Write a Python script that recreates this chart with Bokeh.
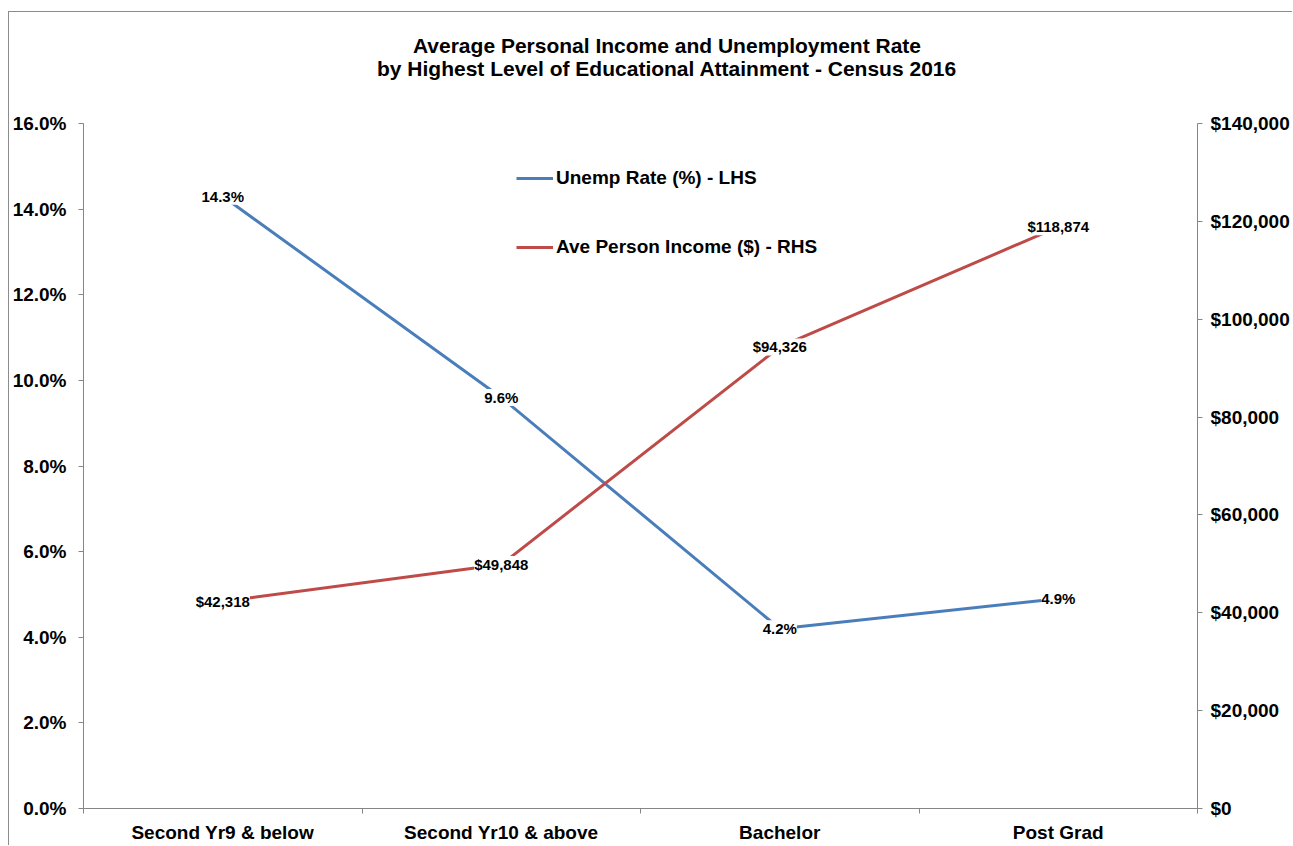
from bokeh.plotting import figure
from bokeh.models import (Range1d, LinearAxis, FixedTicker, PrintfTickFormatter,
                          NumeralTickFormatter, ColumnDataSource, LabelSet, Label,
                          Legend, LegendItem)
from bokeh.core.properties import value
from bokeh.embed import file_html
from bokeh.resources import INLINE

# ---------------- data ----------------
categories = ["Second Yr9 & below", "Second Yr10 & above", "Bachelor", "Post Grad"]
unemp_rate = [14.3, 9.6, 4.2, 4.9]
avg_income = [42318, 49848, 94326, 118874]
unemp_labels = ["14.3%", "9.6%", "4.2%", "4.9%"]
income_labels = ["$42,318", "$49,848", "$94,326", "$118,874"]
series_names = ["Unemp Rate (%) - LHS", "Ave Person Income ($) - RHS"]
title_lines = ["Average Personal Income and Unemployment Rate",
               "by Highest Level of Educational Attainment - Census 2016"]
pct_ticks = [0, 2, 4, 6, 8, 10, 12, 14, 16]
income_ticks = [0, 20000, 40000, 60000, 80000, 100000, 120000, 140000]

# ---------------- styling / layout ----------------
FONT = "Liberation Sans"
BLUE = "#4A7EBB"
RED = "#BE4B48"
AXIS_GRAY = "#868686"

W, H = 1284, 834          # figure size (placed at page x=9, y=12)
FRAME_H = 796             # frame spans the full height above the x axis
AXIS_H = 685              # pixel height of the 0..16% axis span

n = len(categories)
xs = [i + 0.5 for i in range(n)]
bounds = [float(i) for i in range(n + 1)]

pct_top = pct_ticks[-1] * FRAME_H / AXIS_H
inc_top = income_ticks[-1] * FRAME_H / AXIS_H

p = figure(width=W, height=H, output_backend="svg", toolbar_location=None,
           x_range=Range1d(0, n), y_range=Range1d(pct_ticks[0], pct_top),
           min_border_left=73, min_border_right=96, min_border_top=0,
           min_border_bottom=H - FRAME_H, background_fill_color="white",
           border_fill_color="white")
p.extra_y_ranges = {"income": Range1d(income_ticks[0], inc_top)}
p.styles = {"margin-left": "8px", "margin-top": "11px",
            "border-left": "1px solid #8c8c8c", "border-top": "1px solid #8c8c8c"}
p.outline_line_color = None
p.xgrid.visible = False
p.ygrid.visible = False


def style_axis(ax):
    ax.axis_line_color = AXIS_GRAY
    ax.axis_line_width = 1
    ax.major_tick_line_color = AXIS_GRAY
    ax.minor_tick_line_color = AXIS_GRAY
    ax.major_label_text_font = FONT
    ax.major_label_text_font_style = "bold"
    ax.major_label_text_font_size = "19px"
    ax.major_label_text_color = "#000000"


# left axis
yax = p.yaxis[0]
style_axis(yax)
yax.ticker = FixedTicker(ticks=pct_ticks)
yax.formatter = PrintfTickFormatter(format="%.1f%%")
yax.bounds = (pct_ticks[0], pct_ticks[-1])
yax.major_tick_out = 5
yax.major_tick_in = 0
yax.minor_tick_out = 0
yax.minor_tick_in = 0
yax.major_label_standoff = 12

# bottom axis
xax = p.xaxis[0]
style_axis(xax)
xax.ticker = FixedTicker(ticks=xs, minor_ticks=bounds)
xax.major_label_overrides = {x: c for x, c in zip(xs, categories)}
xax.major_tick_out = 0
xax.major_tick_in = 0
xax.minor_tick_out = 5
xax.minor_tick_in = 0
xax.major_label_standoff = 8

# right axis
rax = LinearAxis(y_range_name="income",
                 ticker=FixedTicker(ticks=income_ticks),
                 formatter=NumeralTickFormatter(format="$0,0"),
                 bounds=(income_ticks[0], income_ticks[-1]))
style_axis(rax)
rax.major_tick_out = 5
rax.major_tick_in = 0
rax.minor_tick_out = 0
rax.minor_tick_in = 0
rax.major_label_standoff = 8
p.add_layout(rax, "right")

# lines
src_u = ColumnDataSource(dict(x=xs, y=unemp_rate, t=unemp_labels))
src_i = ColumnDataSource(dict(x=xs, y=avg_income, t=income_labels))
r_u = p.line("x", "y", source=src_u, line_color=BLUE, line_width=3)
r_i = p.line("x", "y", source=src_i, line_color=RED, line_width=3,
             y_range_name="income")

# data labels
for src, yr in ((src_u, "default"), (src_i, "income")):
    ls = LabelSet(x="x", y="y", text="t", source=src, y_range_name=yr,
                  text_align="center", text_baseline="middle",
                  text_font=value(FONT), text_font_style="bold",
                  text_font_size="15px", text_color="#000000",
                  background_fill_color="white", background_fill_alpha=1.0)
    p.add_layout(ls)

# legend
legend = Legend(items=[LegendItem(label=series_names[0], renderers=[r_u]),
                       LegendItem(label=series_names[1], renderers=[r_i])],
                location=(433, 550), orientation="vertical",
                border_line_color=None, background_fill_alpha=0.0,
                padding=0, margin=0, spacing=47, label_height=22,
                glyph_height=22, glyph_width=37, label_standoff=3,
                label_text_font=FONT, label_text_font_style="bold",
                label_text_font_size="19px", label_text_color="#000000")
p.add_layout(legend)

# title: two centred lines in the space above the 16% level
px_per_unit = AXIS_H / pct_ticks[-1]
title_x = (666 - 82) / ((1197 - 82) / n)
for txt, py in zip(title_lines, (45, 68)):
    p.add_layout(Label(x=title_x, y=(808 - py) / px_per_unit, text=txt,
                       text_align="center", text_baseline="middle",
                       text_font=FONT, text_font_style="bold",
                       text_font_size="21px", text_color="#000000"))

open("out.html", "w").write(file_html(p, INLINE))
